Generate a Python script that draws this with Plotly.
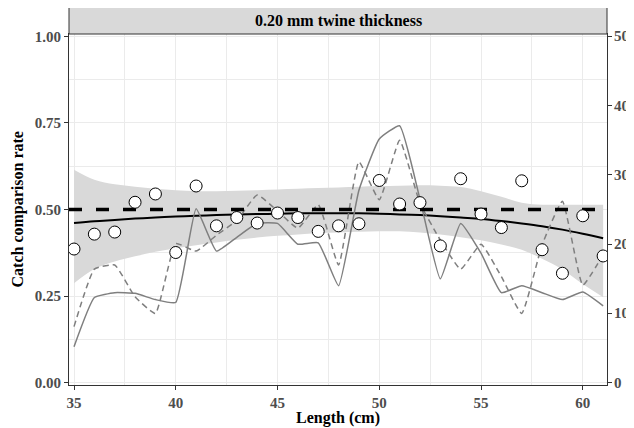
import plotly.graph_objects as go

# ── Data ──────────────────────────────────────────────────────────────────────
length = list(range(35, 62))

rate = [0.386, 0.429, 0.435, 0.521, 0.545, 0.376, 0.568, 0.453, 0.477, 0.461,
        0.490, 0.477, 0.437, 0.453, 0.459, 0.584, 0.516, 0.520, 0.395, 0.589,
        0.487, 0.448, 0.583, 0.384, 0.316, 0.482, 0.366]

fit = [0.461, 0.466, 0.470, 0.474, 0.477, 0.480, 0.482, 0.484, 0.486, 0.487,
       0.488, 0.489, 0.489, 0.489, 0.489, 0.488, 0.486, 0.484, 0.481, 0.477,
       0.473, 0.467, 0.460, 0.452, 0.442, 0.430, 0.417]

ci_upper = [0.615, 0.586, 0.573, 0.566, 0.560, 0.556, 0.553, 0.553, 0.554, 0.556,
            0.558, 0.560, 0.562, 0.564, 0.566, 0.568, 0.569, 0.570, 0.569, 0.565,
            0.553, 0.537, 0.520, 0.514, 0.514, 0.514, 0.514]

ci_lower = [0.287, 0.328, 0.350, 0.365, 0.378, 0.388, 0.397, 0.405, 0.413, 0.419,
            0.424, 0.428, 0.432, 0.434, 0.436, 0.437, 0.437, 0.434, 0.428, 0.420,
            0.411, 0.399, 0.384, 0.358, 0.327, 0.285, 0.247]

# numbers caught (right axis)
n_solid = [5.2, 12.3, 13.0, 12.9, 12.0, 11.6, 25.1, 19.0, 21.0, 23.0,
           23.0, 20.0, 20.2, 14.0, 27.8, 35.2, 37.1, 26.5, 15.0, 23.0,
           18.7, 13.0, 14.0, 13.0, 12.0, 13.1, 11.1]

n_dashed = [8.1, 16.4, 17.0, 12.4, 10.0, 20.1, 19.0, 21.3, 23.4, 27.1,
            24.8, 22.3, 25.7, 17.0, 31.9, 26.4, 35.0, 25.9, 20.6, 16.4,
            20.0, 15.3, 10.0, 19.9, 26.2, 14.1, 18.5]

y_ticks = [0, 0.25, 0.5, 0.75, 1.0]
y2_ticks = [0, 10, 20, 30, 40, 50]
x_ticks = [35, 40, 45, 50, 55, 60]
strip_title = '0.20 mm twine thickness'
baseline = 0.5

# ── Style ─────────────────────────────────────────────────────────────────────
FONT = 'Liberation Serif'
GRID = '#EBEBEB'
DARK = '#333333'
TICKC = '#4D4D4D'
GREY = '#7F7F7F'
X_RANGE = [34.754, 61.19]
Y_RANGE = [-0.0066, 1.0069]
TICKFONT = dict(family=FONT, size=15, color=TICKC, weight='bold')

fig = go.Figure()

# confidence band
fig.add_trace(go.Scatter(x=length, y=ci_lower, mode='lines', line=dict(width=0, shape='spline'),
                         showlegend=False, hoverinfo='skip'))
fig.add_trace(go.Scatter(x=length, y=ci_upper, mode='lines', line=dict(width=0, shape='spline'),
                         fill='tonexty', fillcolor='#D9D9D9', showlegend=False, hoverinfo='skip'))

# fitted curve
fig.add_trace(go.Scatter(x=length, y=fit, mode='lines',
                         line=dict(color='black', width=2, shape='spline'), showlegend=False))

# length frequencies on secondary axis
fig.add_trace(go.Scatter(x=length, y=n_solid, mode='lines', yaxis='y2',
                         line=dict(color=GREY, width=1.5, shape='spline', smoothing=0.4),
                         showlegend=False))
fig.add_trace(go.Scatter(x=length, y=n_dashed, mode='lines', yaxis='y2',
                         line=dict(color=GREY, width=1.5, dash='6px,4px', shape='spline', smoothing=0.4),
                         showlegend=False))

# 0.5 reference line and observed points on top
fig.add_trace(go.Scatter(x=X_RANGE, y=[baseline, baseline], mode='lines', yaxis='y3',
                         line=dict(color='black', width=3.5, dash='13px,14px'),
                         showlegend=False, hoverinfo='skip'))
fig.add_trace(go.Scatter(x=length, y=rate, mode='markers', yaxis='y3',
                         marker=dict(size=12, color='white', line=dict(color='black', width=1)),
                         showlegend=False))

axis_common = dict(
    showline=True, linecolor=DARK, linewidth=1, mirror=True,
    ticks='outside', ticklen=4, tickcolor=DARK, tickwidth=1,
    zeroline=False, automargin=False, tickfont=TICKFONT,
)

# right-hand tick labels as annotations so they sit close to the ticks
right_labels = [dict(text=str(v), xref='paper', yref='y2', x=1 + 5 / 538, y=v,
                     showarrow=False, xanchor='left', yanchor='middle', font=TICKFONT)
                for v in y2_ticks]

# the page body adds an 8px offset, so the figure is 8px smaller than the window
fig.update_layout(
    width=626, height=420,
    margin=dict(l=61, r=27, t=26, b=43),
    paper_bgcolor='white', plot_bgcolor='white',
    xaxis=dict(range=X_RANGE, tickvals=x_ticks, showgrid=True, gridcolor=GRID, gridwidth=1.1,
               minor=dict(dtick=2.5, tick0=35, showgrid=True, gridcolor=GRID, gridwidth=0.6, ticks=''),
               **axis_common),
    yaxis=dict(range=Y_RANGE, tickvals=y_ticks, tickformat='.2f', showgrid=True, gridcolor=GRID,
               gridwidth=1.1,
               minor=dict(dtick=0.125, tick0=0, showgrid=True, gridcolor=GRID, gridwidth=0.6, ticks=''),
               **axis_common),
    yaxis2=dict(overlaying='y', side='right', range=[Y_RANGE[0] * 50, Y_RANGE[1] * 50],
                tickvals=y2_ticks, showticklabels=False, showgrid=False, **axis_common),
    yaxis3=dict(overlaying='y', range=Y_RANGE, visible=False, automargin=False),
    shapes=[dict(type='rect', xref='paper', yref='paper', x0=0, x1=1, y0=1, y1=1 + 27 / 351,
                 fillcolor='#D9D9D9', line=dict(color=DARK, width=1))],
    annotations=[
        dict(text=strip_title, xref='paper', yref='paper', x=0.5, y=1 + 13.5 / 351,
             showarrow=False, xanchor='center', yanchor='middle',
             font=dict(family=FONT, size=16, color='black', weight='bold')),
        dict(text='Length (cm)', xref='paper', yref='paper', x=0.5, y=-33 / 351,
             showarrow=False, xanchor='center', yanchor='middle',
             font=dict(family=FONT, size=16, color='black', weight='bold')),
        dict(text='Catch comparison rate', xref='paper', yref='paper', x=-52 / 538, y=0.5,
             showarrow=False, xanchor='center', yanchor='middle', textangle=-90,
             font=dict(family=FONT, size=16, color='black', weight='bold')),
    ] + right_labels,
)

fig.write_html('out.html')
